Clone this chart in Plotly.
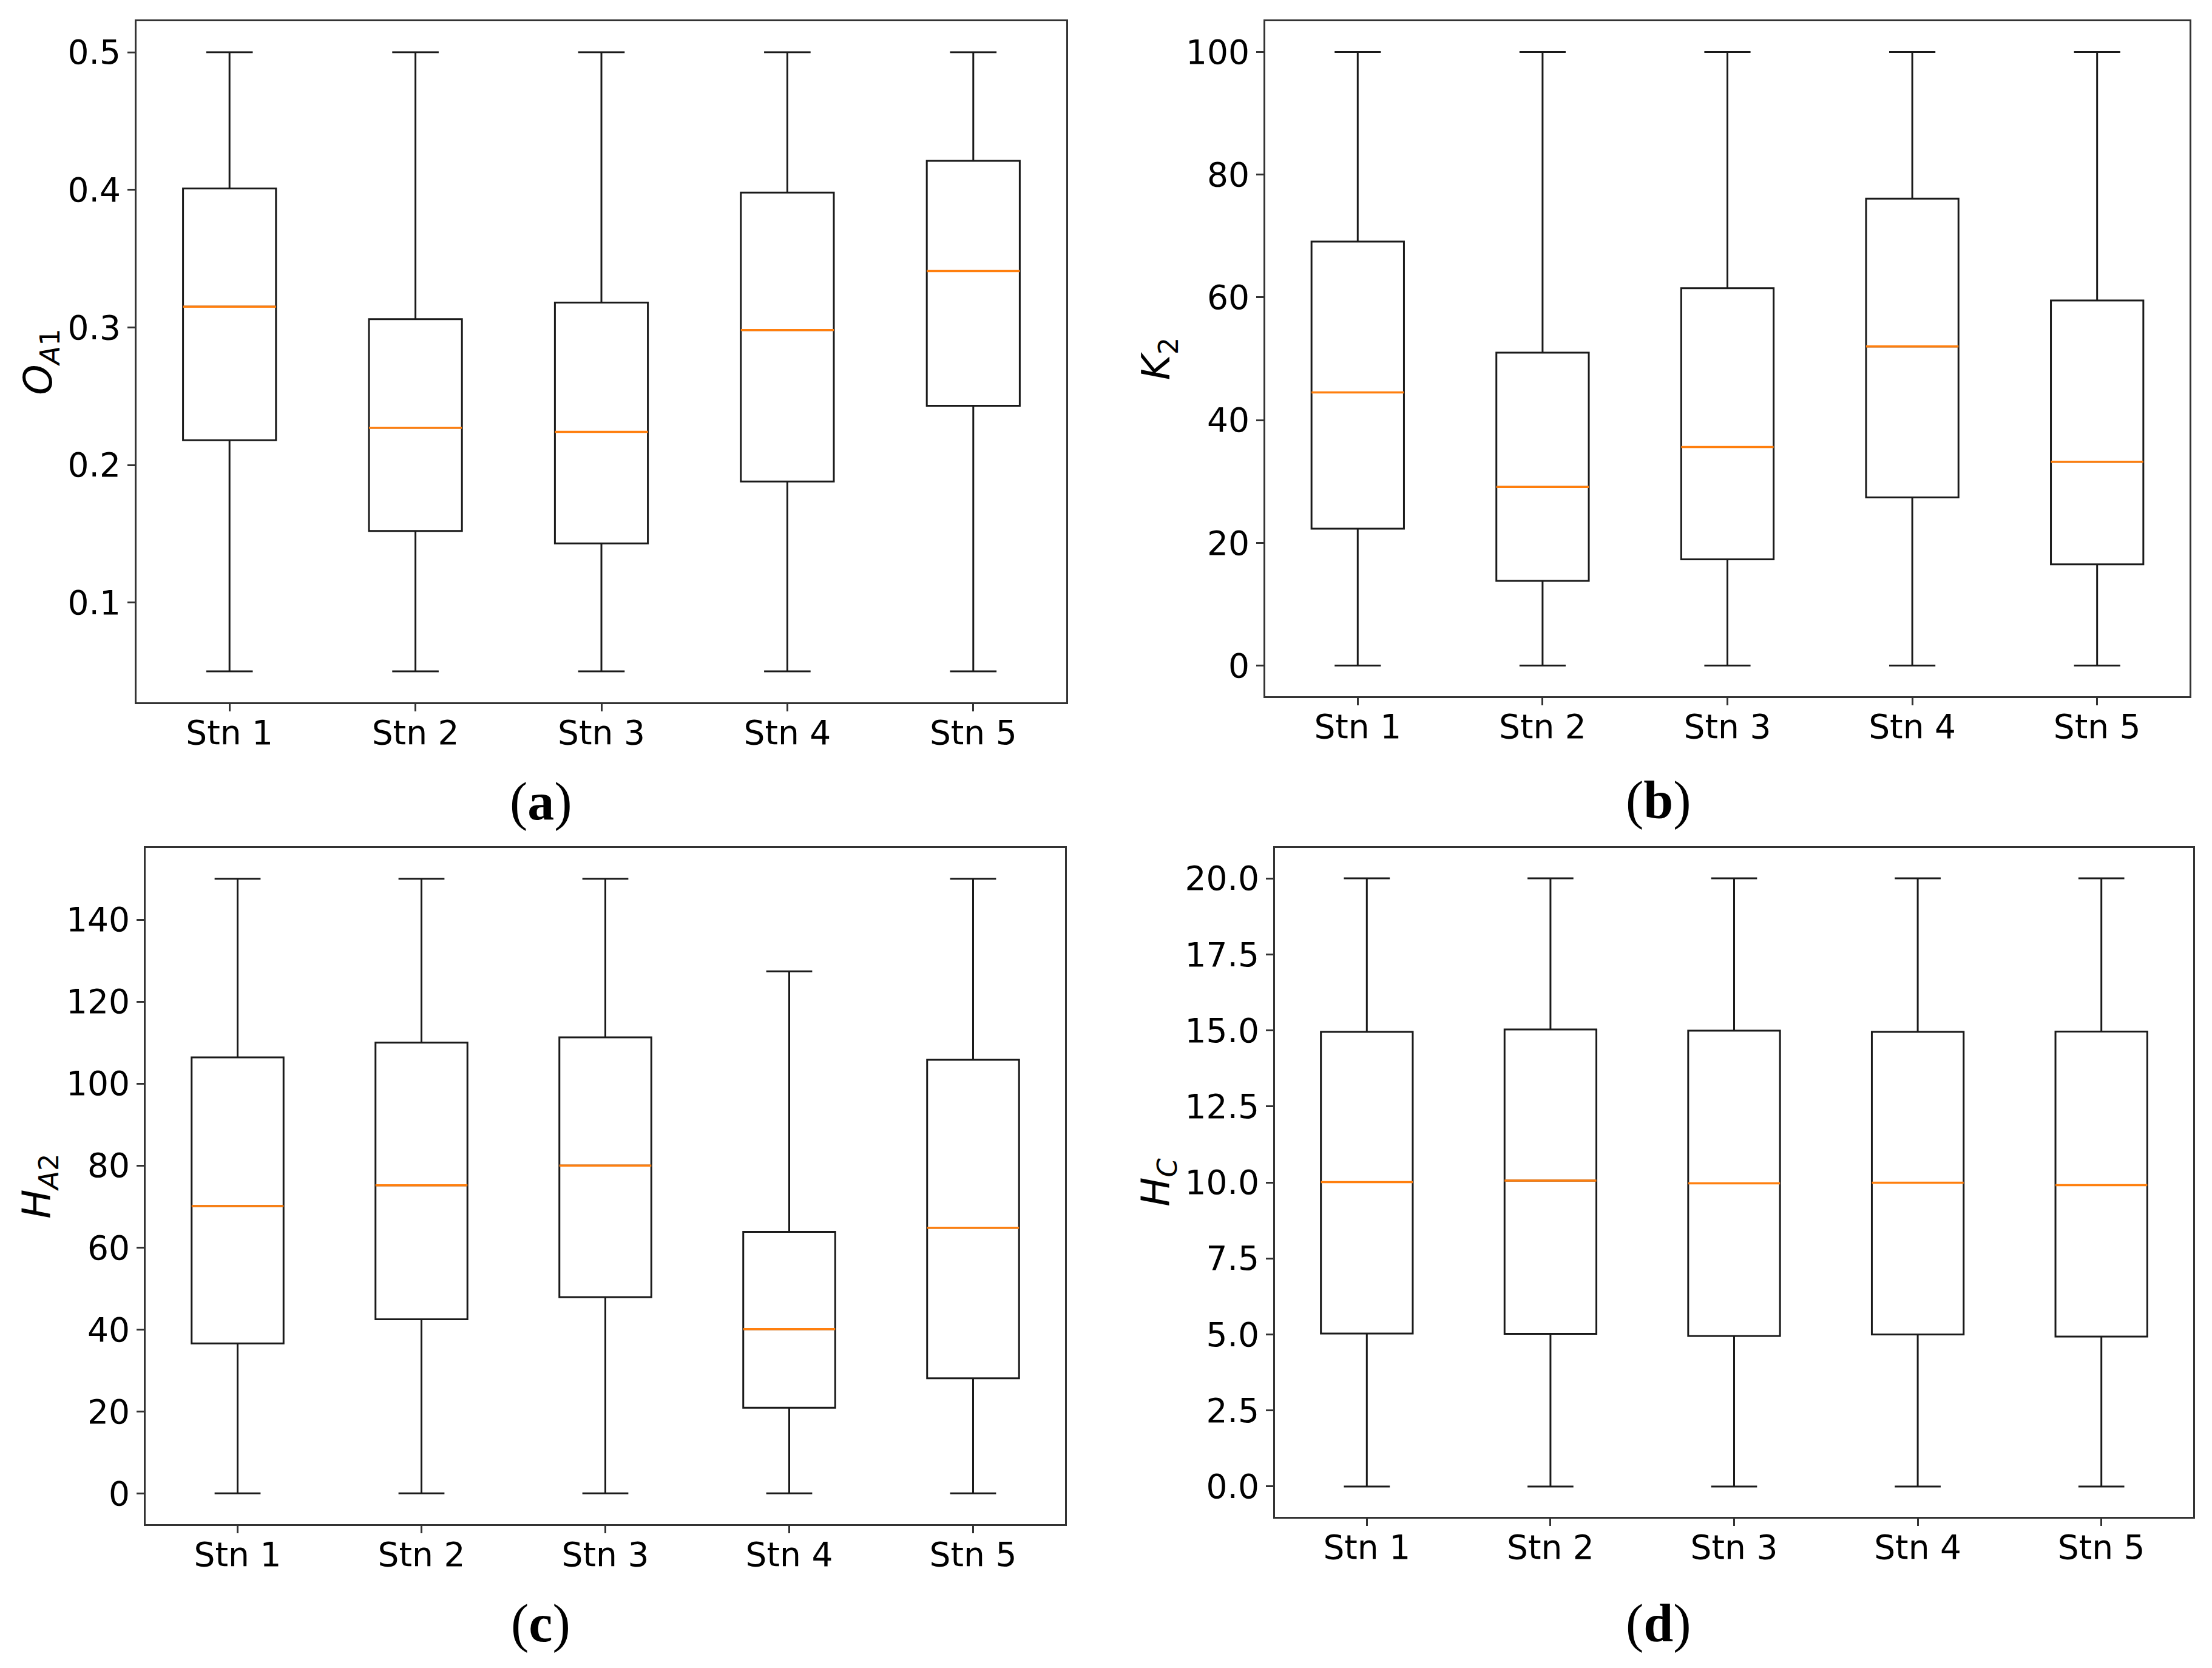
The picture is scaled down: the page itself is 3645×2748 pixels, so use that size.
"""Box plots of the five stations, four parameters (a)-(d)."""
import plotly.graph_objects as go

W, H = 3645, 2748

STATIONS = ["Stn 1", "Stn 2", "Stn 3", "Stn 4", "Stn 5"]
POSITIONS = [1, 2, 3, 4, 5]

# (a) O_A1
oa1_low = [0.05, 0.05, 0.05, 0.05, 0.05]
oa1_q1 = [0.218, 0.152, 0.143, 0.188, 0.243]
oa1_med = [0.315, 0.227, 0.224, 0.298, 0.341]
oa1_q3 = [0.401, 0.306, 0.318, 0.398, 0.421]
oa1_high = [0.5, 0.5, 0.5, 0.5, 0.5]

# (b) K_2
k2_low = [0, 0, 0, 0, 0]
k2_q1 = [22.3, 13.8, 17.3, 27.4, 16.5]
k2_med = [44.5, 29.1, 35.6, 52.0, 33.2]
k2_q3 = [69.1, 51.0, 61.5, 76.1, 59.5]
k2_high = [100, 100, 100, 100, 100]

# (c) H_A2
ha2_low = [0, 0, 0, 0, 0]
ha2_q1 = [36.6, 42.5, 47.9, 20.9, 28.1]
ha2_med = [70.1, 75.2, 80.0, 40.1, 64.8]
ha2_q3 = [106.4, 110.0, 111.3, 63.8, 105.8]
ha2_high = [150, 150, 150, 127.4, 150]

# (d) H_C
hc_low = [0, 0, 0, 0, 0]
hc_q1 = [5.03, 5.02, 4.95, 5.0, 4.93]
hc_med = [10.01, 10.06, 9.97, 9.99, 9.91]
hc_q3 = [14.95, 15.03, 14.99, 14.95, 14.96]
hc_high = [20, 20, 20, 20, 20]

BOX_WIDTH = 0.5
LINE = "#1a1a1a"
AXIS = "#333333"
MEDIAN = "#ff7f0e"
TICK_FONT = dict(family="DejaVu Sans", size=55, color="black")
TITLE_FONT = dict(family="DejaVu Sans", size=64, color="black")

# pixel frames of each axes box: (left, top, right, bottom)
panels = [
    dict(
        frame=(225, 35, 1757, 1157),
        low=oa1_low, q1=oa1_q1, med=oa1_med, q3=oa1_q3, high=oa1_high,
        title="<i>O</i><sub><i>A</i>1</sub>",
        tickvals=[0.1, 0.2, 0.3, 0.4, 0.5], fmt=".1f",
        caption="(<b>a</b>)", cap_xy=(891, 1320),
    ),
    dict(
        frame=(2085, 35, 3608, 1147),
        low=k2_low, q1=k2_q1, med=k2_med, q3=k2_q3, high=k2_high,
        title="<i>K</i><sub>2</sub>",
        tickvals=[0, 20, 40, 60, 80, 100], fmt="d",
        caption="(<b>b</b>)", cap_xy=(2733, 1318),
    ),
    dict(
        frame=(240, 1397, 1755, 2511),
        low=ha2_low, q1=ha2_q1, med=ha2_med, q3=ha2_q3, high=ha2_high,
        title="<i>H</i><sub><i>A</i>2</sub>",
        tickvals=[0, 20, 40, 60, 80, 100, 120, 140], fmt="d",
        caption="(<b>c</b>)", cap_xy=(891, 2674),
    ),
    dict(
        frame=(2101, 1397, 3614, 2499),
        low=hc_low, q1=hc_q1, med=hc_med, q3=hc_q3, high=hc_high,
        title="<i>H</i><sub><i>C</i></sub>",
        tickvals=[0, 2.5, 5, 7.5, 10, 12.5, 15, 17.5, 20], fmt=".1f",
        caption="(<b>d</b>)", cap_xy=(2733, 2674),
    ),
]

fig = go.Figure()
annotations = []

for i, p in enumerate(panels, start=1):
    xa = "x" if i == 1 else f"x{i}"
    ya = "y" if i == 1 else f"y{i}"

    fig.add_trace(
        go.Box(
            x=POSITIONS,
            q1=p["q1"],
            median=p["med"],
            q3=p["q3"],
            lowerfence=p["low"],
            upperfence=p["high"],
            width=BOX_WIDTH,
            whiskerwidth=0.5,
            boxpoints=False,
            fillcolor="rgba(0,0,0,0)",
            line=dict(color=LINE, width=3),
            hoverinfo="skip",
            showlegend=False,
            xaxis=xa,
            yaxis=ya,
        )
    )

    # matplotlib-style orange median lines over the black ones
    mx, my = [], []
    for pos, m in zip(POSITIONS, p["med"]):
        mx += [pos - BOX_WIDTH / 2, pos + BOX_WIDTH / 2, None]
        my += [m, m, None]
    fig.add_trace(
        go.Scatter(
            x=mx, y=my, mode="lines",
            line=dict(color=MEDIAN, width=3.5),
            hoverinfo="skip", showlegend=False,
            xaxis=xa, yaxis=ya,
        )
    )

    lo = min(p["low"])
    hi = max(p["high"])
    pad = (hi - lo) * 0.05
    left, top, right, bottom = p["frame"]

    common = dict(
        showline=True, mirror=True, linecolor=AXIS, linewidth=3,
        ticks="outside", ticklen=12, tickwidth=3, tickcolor=AXIS,
        showgrid=False, zeroline=False, tickfont=TICK_FONT,
    )
    fig.layout[f"xaxis{'' if i == 1 else i}"] = dict(
        common,
        domain=[left / W, right / W],
        anchor=ya,
        range=[0.5, 5.5],
        tickvals=POSITIONS,
        ticktext=STATIONS,
        ticklabelstandoff=-12,
    )
    fig.layout[f"yaxis{'' if i == 1 else i}"] = dict(
        common,
        domain=[1 - bottom / H, 1 - top / H],
        anchor=xa,
        range=[lo - pad, hi + pad],
        tickvals=p["tickvals"],
        tickformat=p["fmt"],
        title=dict(text=p["title"], font=TITLE_FONT, standoff=6),
    )

    annotations.append(
        dict(
            text=p["caption"],
            x=p["cap_xy"][0] / W, y=1 - p["cap_xy"][1] / H,
            xref="paper", yref="paper",
            xanchor="center", yanchor="middle",
            showarrow=False,
            font=dict(family="Liberation Serif", size=88, color="black"),
        )
    )

fig.update_layout(
    width=W,
    height=H,
    margin=dict(l=0, r=0, t=0, b=0),
    paper_bgcolor="white",
    plot_bgcolor="white",
    annotations=annotations,
)

fig.write_html(
    "out.html",
    config={"displayModeBar": False},
    post_script="document.body.style.margin = '0';",
)
